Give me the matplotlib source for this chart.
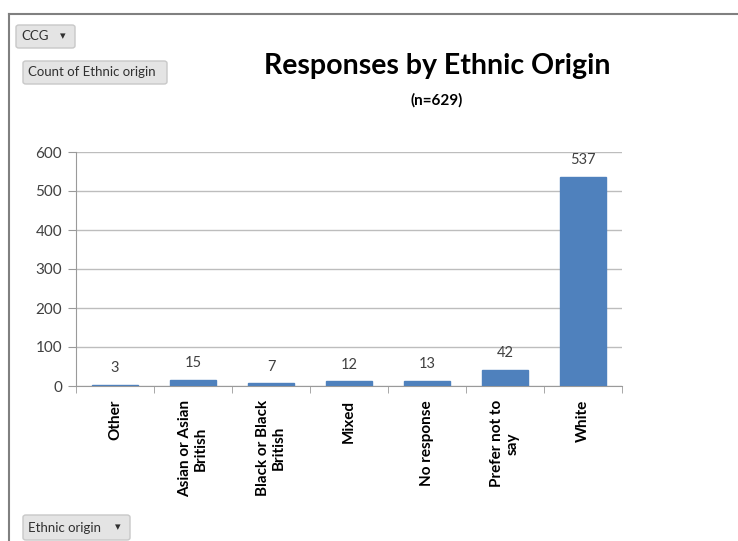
import numpy as np
import matplotlib.pyplot as plt
from matplotlib.patches import FancyBboxPatch

plt.rcParams['font.family'] = ['Lato', 'DejaVu Sans']

# data
categories = ['Other', 'Asian or Asian\nBritish', 'Black or Black\nBritish', 'Mixed',
              'No response', 'Prefer not to\nsay', 'White']
counts = [3, 15, 7, 12, 13, 42, 537]
yticks = [0, 100, 200, 300, 400, 500, 600]

W, H = 738, 541
fig = plt.figure(figsize=(W / 100, H / 100), dpi=100)
ax = fig.add_axes([76 / W, 1 - 386 / H, (622 - 76) / W, (386 - 152) / H])

x = np.arange(len(categories))
bars = ax.bar(x, counts, width=0.6, color='#4F81BD', edgecolor='#4F81BD', zorder=3)
for xi, v in zip(x, counts):
    ax.annotate(str(v), (xi, v), xytext=(0, 7), textcoords='offset points',
                ha='center', va='bottom', fontsize=10.5, color='#404040')

ax.set_xlim(-0.5, len(categories) - 0.5)
ax.set_ylim(0, 600)
ax.set_yticks(yticks)
ax.set_yticklabels([str(t) for t in yticks], fontsize=11, color='#404040')
ax.yaxis.grid(True, color='#BDBDBD', linewidth=1, zorder=0)
ax.tick_params(axis='y', length=6, color='#9A9A9A', pad=4)

ax.set_xticks(x)
ax.set_xticklabels(categories, rotation=90, fontsize=11, fontweight='bold',
                   va='top', ha='center', multialignment='center')
ax.set_xticks(np.arange(len(categories) + 1) - 0.5, minor=True)
ax.tick_params(axis='x', which='major', length=0, pad=10)
ax.tick_params(axis='x', which='minor', length=5, color='#9A9A9A')

for s in ['top', 'right']:
    ax.spines[s].set_visible(False)
for s in ['left', 'bottom']:
    ax.spines[s].set_color('#9A9A9A')

fig.text(437 / W, 1 - 66 / H, 'Responses by Ethnic Origin', ha='center', va='center',
         fontsize=20.5, fontweight='bold')
fig.text(437 / W, 1 - 100 / H, '(n=629)', ha='center', va='center',
         fontsize=11, fontweight='bold')

# pivot chart frame
fig.add_artist(plt.Line2D([9 / W, 1], [1 - 14 / H, 1 - 14 / H], color='#808080', lw=1.5))
fig.add_artist(plt.Line2D([9 / W, 9 / W], [0, 1 - 14 / H], color='#808080', lw=1.5))


def button(x0, y0, x1, y1, label, arrow=False):
    box = FancyBboxPatch((x0 / W, 1 - y1 / H), (x1 - x0) / W, (y1 - y0) / H,
                         boxstyle='round,pad=0,rounding_size=0.004',
                         transform=fig.transFigure, facecolor='#E4E4E4',
                         edgecolor='#C8C8C8', lw=1)
    fig.add_artist(box)
    fig.text((x0 + 5) / W, 1 - (y0 + y1) / 2 / H, label, ha='left', va='center',
             fontsize=9.5, color='#303030')
    if arrow:
        fig.text((x1 - 12) / W, 1 - (y0 + y1) / 2 / H, '▾', ha='center', va='center',
                 fontsize=8, color='#303030', family='DejaVu Sans')


button(16, 25, 75, 48, 'CCG', arrow=True)
button(23, 61, 167, 84, 'Count of Ethnic origin')
button(23, 515, 130, 540, 'Ethnic origin', arrow=True)

fig.savefig('out.png', dpi=100)
